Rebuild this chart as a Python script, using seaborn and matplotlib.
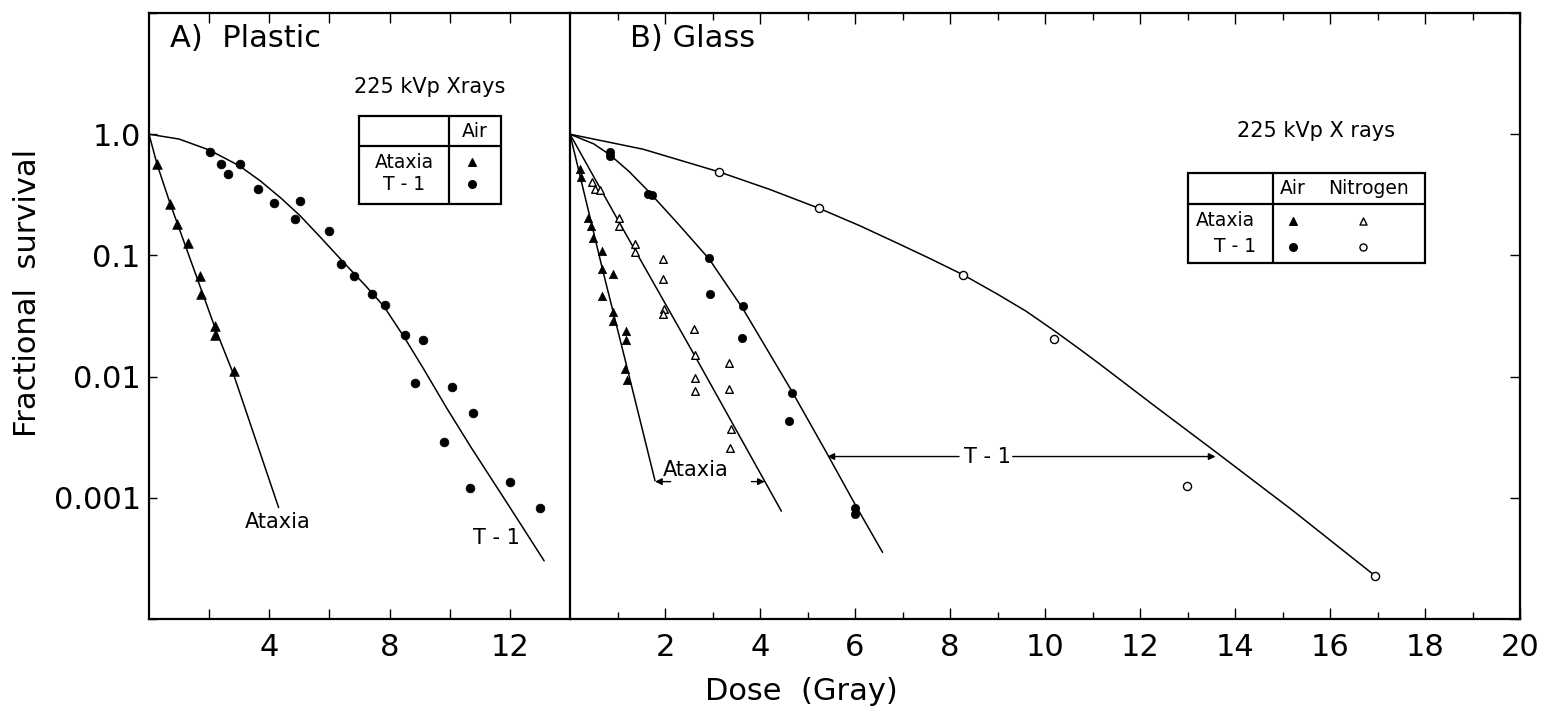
import matplotlib
matplotlib.use("Agg")
import matplotlib.pyplot as plt
import seaborn as sns
import numpy as np
from matplotlib.patches import Rectangle

# ---------------- data ----------------
# Panel A: Plastic, 225 kVp X rays, air
plastic_ataxia_dose = [0.27, 0.70, 0.92, 1.31, 1.68, 1.72, 2.18, 2.20, 2.81]
plastic_ataxia_surv = [0.565, 0.264, 0.18, 0.126, 0.068, 0.048, 0.026, 0.022, 0.0111]

plastic_t1_dose = [2.03, 2.39, 2.62, 3.01, 3.61, 4.17, 4.84, 5.01, 6.00, 6.39, 6.81,
                   7.42, 7.84, 8.50, 8.84, 9.12, 9.81, 10.07, 10.68, 10.79, 12.01, 13.01]
plastic_t1_surv = [0.71, 0.57, 0.47, 0.57, 0.35, 0.27, 0.20, 0.28, 0.16, 0.085, 0.068,
                   0.048, 0.039, 0.022, 0.0088, 0.020, 0.0029, 0.0082, 0.0012, 0.0050, 0.00136, 0.00083]

# fitted curves: dose and log10(survival)
plastic_ataxia_fit_dose = [0, 0.27, 0.7, 2.2, 2.81, 4.31]
plastic_ataxia_fit_logs = [0, -0.25, -0.57, -1.6, -1.98, -3.08]
plastic_t1_fit_dose = [0, 1, 2, 3, 3.7, 4.4, 5.03, 5.7, 6.48, 7.2, 7.81, 8.5, 9.14, 9.9, 10.7, 12.03, 13.14]
plastic_t1_fit_logs = [0, -0.04, -0.13, -0.26, -0.385, -0.53, -0.674, -0.85, -1.06, -1.25, -1.42,
                       -1.68, -1.94, -2.26, -2.58, -3.09, -3.52]

# Panel B: Glass, air and nitrogen
glass_ataxia_air_dose = [0.21, 0.24, 0.385, 0.45, 0.49, 0.68, 0.68, 0.91, 0.68, 0.91, 0.91, 1.17, 1.17, 1.16, 1.19]
glass_ataxia_air_surv = [0.52, 0.44, 0.205, 0.175, 0.14, 0.108, 0.077, 0.070, 0.046, 0.034, 0.029, 0.024, 0.020, 0.0116, 0.0093]

glass_ataxia_n2_dose = [0.47, 0.53, 0.63, 1.04, 1.04, 1.37, 1.37, 1.95, 1.96, 1.97, 1.96,
                        2.61, 2.63, 3.34, 2.63, 2.63, 3.34, 3.38, 3.36]
glass_ataxia_n2_surv = [0.40, 0.35, 0.347, 0.203, 0.175, 0.124, 0.106, 0.093, 0.064, 0.036, 0.0327,
                        0.0246, 0.015, 0.013, 0.0098, 0.0076, 0.0079, 0.0037, 0.0026]

glass_t1_air_dose = [0.85, 0.85, 1.65, 1.72, 2.93, 2.94, 3.64, 3.63, 4.67, 4.62, 6.01, 6.01]
glass_t1_air_surv = [0.71, 0.66, 0.32, 0.314, 0.096, 0.048, 0.038, 0.021, 0.0073, 0.0043, 0.00083, 0.00073]

glass_t1_n2_dose = [3.14, 5.24, 8.28, 10.19, 12.98, 16.95]
glass_t1_n2_surv = [0.489, 0.245, 0.069, 0.0204, 0.00126, 0.000227]

glass_ataxia_air_fit_dose = [0, 0.7, 1.16, 1.79]
glass_ataxia_air_fit_logs = [0, -1.14, -1.86, -2.86]
glass_ataxia_n2_fit_dose = [0, 1.04, 2.63, 4.45]
glass_ataxia_n2_fit_logs = [0, -0.73, -1.83, -3.11]
glass_t1_air_fit_dose = [0, 0.5, 0.84, 1.25, 1.65, 2.3, 2.93, 3.64, 4.67, 5.39, 6.01, 6.58]
glass_t1_air_fit_logs = [0, -0.08, -0.17, -0.31, -0.47, -0.75, -1.03, -1.44, -2.12, -2.62, -3.06, -3.45]
glass_t1_n2_fit_dose = [0, 1.54, 3.14, 4.2, 5.24, 6.1, 6.93, 7.6, 8.28, 9.0, 9.6, 10.19, 10.7, 11.13,
                        12.3, 13.59, 15.2, 16.95]
glass_t1_n2_fit_logs = [0, -0.124, -0.311, -0.455, -0.611, -0.755, -0.906, -1.03, -1.161, -1.32, -1.46,
                        -1.62, -1.765, -1.89, -2.24, -2.62, -3.10, -3.644]

# annotation levels (dose range bars)
t1_bar_surv = 0.00219
t1_bar_ends = [5.42, 13.59]
ataxia_bar_surv = 0.00136
ataxia_bar_ends = [1.79, 4.10]

y_ticks = [10, 1, 0.1, 0.01, 0.001, 0.0001]
y_tick_labels = ["", "1.0", "0.1", "0.01", "0.001", ""]
left_xticks = [2, 4, 6, 8, 10, 12]
left_xtick_labels = ["", "4", "", "8", "", "12"]
right_xticks = [2, 4, 6, 8, 10, 12, 14, 16, 18, 20]
right_minor_xticks = [1, 3, 5, 7, 9, 11, 13, 15, 17, 19]

# ---------------- style ----------------
sns.set_style("ticks")
plt.rcParams["font.family"] = ["DejaVu Sans"]
K = "black"
plt.rcParams.update({"axes.linewidth": 1.6, "xtick.direction": "in", "ytick.direction": "in",
                     "text.color": K, "axes.labelcolor": K, "xtick.color": K, "ytick.color": K,
                     "axes.edgecolor": K})

W, H = 1541, 711
fig = plt.figure(figsize=(W / 100, H / 100), dpi=100)
y0, y1 = 619, 13
axA = fig.add_axes([149 / W, 1 - y0 / H, (570 - 149) / W, (y0 - y1) / H])
axB = fig.add_axes([570 / W, 1 - y0 / H, (1520 - 570) / W, (y0 - y1) / H])
axB.set_facecolor("none")

LW = 1.1


def curve(ax, d, logs):
    sns.lineplot(x=d, y=10.0 ** np.asarray(logs), ax=ax, sort=False, estimator=None,
                 color=K, lw=LW, legend=False)


def pts(ax, d, s, marker, filled, size):
    if filled:
        sns.scatterplot(x=d, y=s, ax=ax, marker=marker, color=K, s=size, linewidth=0.5,
                        edgecolor=K, legend=False, zorder=5)
    else:
        sns.scatterplot(x=d, y=s, ax=ax, marker=marker, color="white", s=size, linewidth=1.0,
                        edgecolor=K, legend=False, zorder=5)


for ax in (axA, axB):
    ax.set_yscale("log")
    ax.set_ylim(1e-4, 10)

# Panel A
curve(axA, plastic_ataxia_fit_dose, plastic_ataxia_fit_logs)
curve(axA, plastic_t1_fit_dose, plastic_t1_fit_logs)
pts(axA, plastic_ataxia_dose, plastic_ataxia_surv, "^", True, 48)
pts(axA, plastic_t1_dose, plastic_t1_surv, "o", True, 40)
axA.set_xlim(0, 14)

# Panel B
curve(axB, glass_ataxia_air_fit_dose, glass_ataxia_air_fit_logs)
curve(axB, glass_ataxia_n2_fit_dose, glass_ataxia_n2_fit_logs)
curve(axB, glass_t1_air_fit_dose, glass_t1_air_fit_logs)
curve(axB, glass_t1_n2_fit_dose, glass_t1_n2_fit_logs)
pts(axB, glass_ataxia_air_dose, glass_ataxia_air_surv, "^", True, 36)
pts(axB, glass_ataxia_n2_dose, glass_ataxia_n2_surv, "^", False, 30)
pts(axB, glass_t1_air_dose, glass_t1_air_surv, "o", True, 36)
pts(axB, glass_t1_n2_dose, glass_t1_n2_surv, "o", False, 34)
axB.set_xlim(0, 20)

# ---------------- ticks ----------------
axA.set_yticks(y_ticks)
axA.set_yticklabels(y_tick_labels)
axA.yaxis.set_minor_locator(matplotlib.ticker.NullLocator())
axA.tick_params(axis="y", which="major", length=6, width=1.0, labelsize=22, pad=6, right=False)
axA.set_xticks(left_xticks)
axA.set_xticklabels(left_xtick_labels)
axA.tick_params(axis="x", which="major", length=7, width=1.0, labelsize=22, pad=10, top=True)

axB.set_yticks(y_ticks)
axB.yaxis.set_minor_locator(matplotlib.ticker.NullLocator())
axB.tick_params(axis="y", which="major", left=False, right=True, labelleft=False,
                labelright=False, length=7, width=1.0)
axB.set_xticks(right_xticks)
axB.set_xticks(right_minor_xticks, minor=True)
axB.tick_params(axis="x", which="major", length=8, width=1.0, labelsize=22, pad=10, top=True)
axB.tick_params(axis="x", which="minor", length=5, width=1.0, top=True)

for ax in (axA, axB):
    for sp in ax.spines.values():
        sp.set_visible(True)
        sp.set_color(K)
        sp.set_linewidth(1.6)
    ax.set_xlabel("")
    ax.set_ylabel("")
axB.spines["left"].set_visible(False)

# ---------------- titles & labels ----------------
axA.text(0.05, 0.958, "A)  Plastic", transform=axA.transAxes, fontsize=22, ha="left", va="center")
axB.text(0.063, 0.958, "B) Glass", transform=axB.transAxes, fontsize=22, ha="left", va="center")
fig.text(28 / W, 1 - 293 / H, "Fractional  survival", rotation=90, fontsize=22,
         ha="center", va="center")
fig.text(801 / W, 1 - 692 / H, "Dose  (Gray)", fontsize=22, ha="center", va="center")

# curve labels
axA.text(4.28, 10 ** -3.2, "Ataxia", fontsize=15, ha="center", va="center")
axA.text(11.57, 10 ** -3.33, "T - 1", fontsize=15, ha="center", va="center")
axB.text(2.65, 10 ** -2.77, "Ataxia", fontsize=15, ha="center", va="center")
axB.text(8.79, t1_bar_surv, "T - 1", fontsize=15, ha="center", va="center")

arrow = dict(arrowstyle="-|>", color=K, lw=1.0, mutation_scale=10, shrinkA=0, shrinkB=0)
axB.annotate("", xy=(t1_bar_ends[0], t1_bar_surv), xytext=(8.19, t1_bar_surv), arrowprops=arrow)
axB.annotate("", xy=(t1_bar_ends[1], t1_bar_surv), xytext=(9.32, t1_bar_surv), arrowprops=arrow)
axB.annotate("", xy=(ataxia_bar_ends[0], ataxia_bar_surv), xytext=(2.12, ataxia_bar_surv), arrowprops=arrow)
axB.annotate("", xy=(ataxia_bar_ends[1], ataxia_bar_surv), xytext=(3.82, ataxia_bar_surv), arrowprops=arrow)


# ---------------- symbol tables ----------------
def table(ax, x0, x1, xd, yt, ym, yb, headers, rows, symbols, caption, cap_xy):
    tr = ax.transAxes
    ax.add_patch(Rectangle((x0, yb), x1 - x0, yt - yb, transform=tr, fill=False,
                           edgecolor=K, lw=1.6, zorder=6))
    ax.plot([xd, xd], [yb, yt], transform=tr, color=K, lw=1.6, zorder=6)
    ax.plot([x0, x1], [ym, ym], transform=tr, color=K, lw=1.6, zorder=6)
    for (hx, htxt) in headers:
        ax.text(hx, (yt + ym) / 2, htxt, transform=tr, fontsize=13.5, ha="center", va="center")
    for (rx, ry, rtxt) in rows:
        ax.text(rx, ry, rtxt, transform=tr, fontsize=13.5, ha="center", va="center")
    for (sx, sy, m, filled) in symbols:
        ax.scatter([sx], [sy], transform=tr, marker=m, s=30 if filled else 26,
                   facecolor=K if filled else "white", edgecolor=K, lw=1.0, zorder=7)
    ax.text(cap_xy[0], cap_xy[1], caption, transform=tr, fontsize=15, ha="center", va="center")


table(axA, 0.499, 0.836, 0.713, 0.830, 0.780, 0.685,
      [(0.775, "Air")],
      [(0.606, 0.754, "Ataxia"), (0.606, 0.717, "T - 1")],
      [(0.768, 0.754, "^", True), (0.768, 0.717, "o", True)],
      "225 kVp Xrays", (0.667, 0.878))

table(axB, 0.6505, 0.900, 0.740, 0.736, 0.685, 0.587,
      [(0.761, "Air"), (0.840, "Nitrogen")],
      [(0.690, 0.657, "Ataxia"), (0.700, 0.614, "T - 1")],
      [(0.761, 0.657, "^", True), (0.835, 0.657, "^", False),
       (0.761, 0.614, "o", True), (0.835, 0.614, "o", False)],
      "225 kVp X rays", (0.785, 0.805))

fig.savefig("out.png", dpi=100)
